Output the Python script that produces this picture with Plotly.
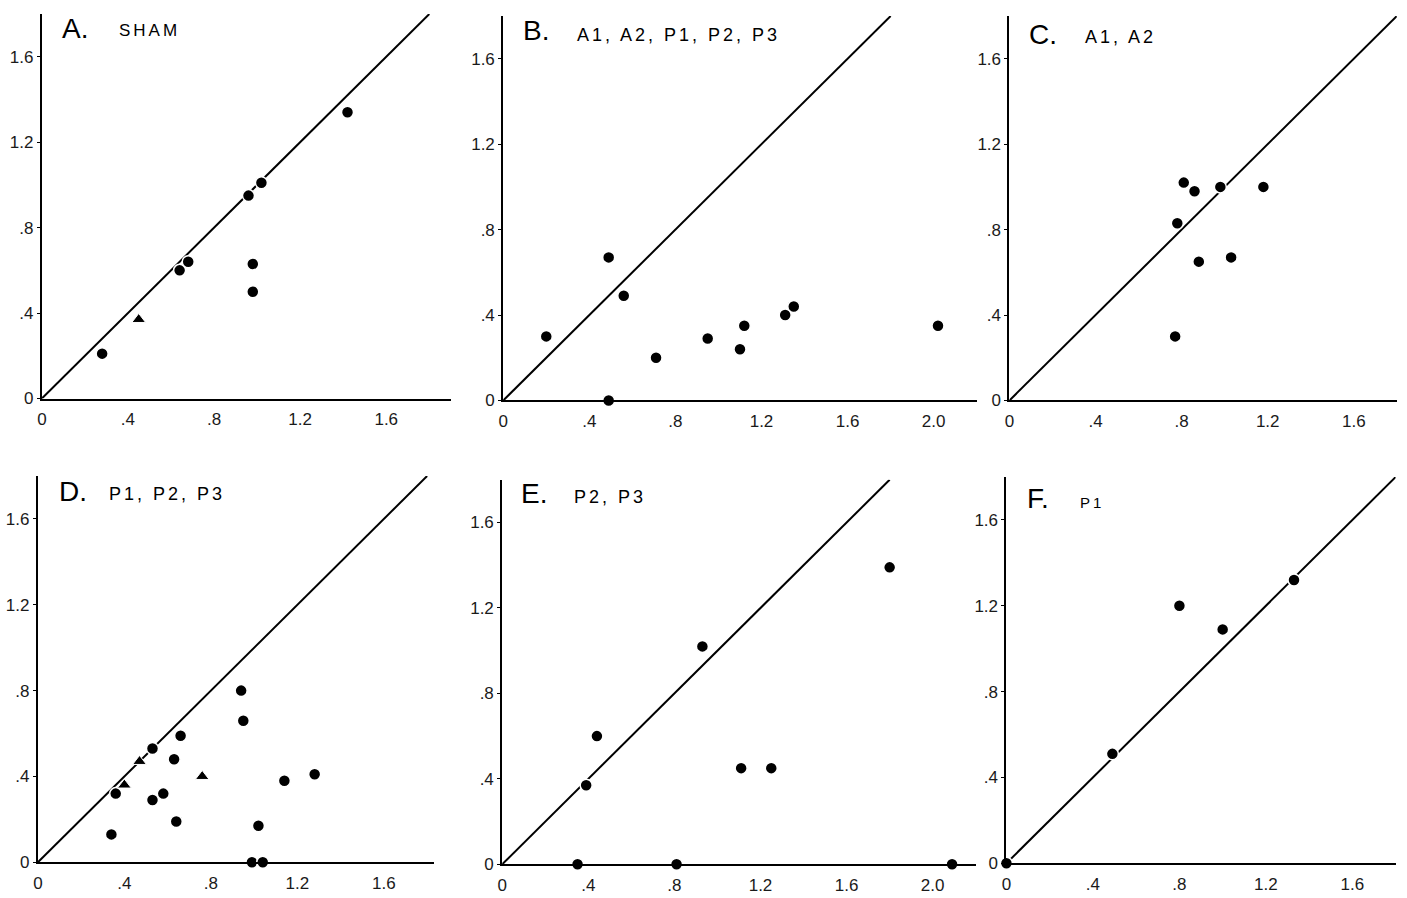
import plotly.graph_objects as go

# ---------------- data ----------------
panel_letters = ["A.", "B.", "C.", "D.", "E.", "F."]
panel_labels = ["SHAM", "A1, A2, P1, P2, P3", "A1, A2", "P1, P2, P3", "P2, P3", "P1"]

A_circle_x = [0.28, 0.64, 0.68, 0.96, 1.02, 0.98, 0.98, 1.42]
A_circle_y = [0.21, 0.60, 0.64, 0.95, 1.01, 0.63, 0.50, 1.34]
A_tri_x = [0.45]
A_tri_y = [0.37]

B_circle_x = [0.20, 0.49, 0.56, 0.49, 0.71, 0.95, 1.10, 1.12, 1.31, 1.35, 2.02]
B_circle_y = [0.30, 0.67, 0.49, 0.00, 0.20, 0.29, 0.24, 0.35, 0.40, 0.44, 0.35]
B_tri_x = []
B_tri_y = []

C_circle_x = [0.81, 0.86, 0.98, 1.18, 0.78, 0.88, 1.03, 0.77]
C_circle_y = [1.02, 0.98, 1.00, 1.00, 0.83, 0.65, 0.67, 0.30]
C_tri_x = []
C_tri_y = []

D_circle_x = [0.34, 0.36, 0.53, 0.53, 0.58, 0.63, 0.66, 0.64, 0.94, 0.95, 1.02, 0.99, 1.04, 1.14, 1.28]
D_circle_y = [0.13, 0.32, 0.53, 0.29, 0.32, 0.48, 0.59, 0.19, 0.80, 0.66, 0.17, 0.00, 0.00, 0.38, 0.41]
D_tri_x = [0.40, 0.47, 0.76]
D_tri_y = [0.36, 0.47, 0.40]

E_circle_x = [0.39, 0.44, 0.93, 1.11, 1.25, 1.80, 0.35, 0.81, 2.09]
E_circle_y = [0.37, 0.60, 1.02, 0.45, 0.45, 1.39, 0.00, 0.00, 0.00]
E_tri_x = []
E_tri_y = []

F_circle_x = [0.00, 0.49, 0.80, 1.00, 1.33]
F_circle_y = [0.00, 0.51, 1.20, 1.09, 1.32]
F_tri_x = []
F_tri_y = []

diag_x = [0, 1.8]
diag_y = [0, 1.8]

tick_vals_short = [0, 0.4, 0.8, 1.2, 1.6]
tick_text_short = ["0", ".4", ".8", "1.2", "1.6"]
tick_vals_long = [0, 0.4, 0.8, 1.2, 1.6, 2.0]
tick_text_long = ["0", ".4", ".8", "1.2", "1.6", "2.0"]

circles_x = [A_circle_x, B_circle_x, C_circle_x, D_circle_x, E_circle_x, F_circle_x]
circles_y = [A_circle_y, B_circle_y, C_circle_y, D_circle_y, E_circle_y, F_circle_y]
tris_x = [A_tri_x, B_tri_x, C_tri_x, D_tri_x, E_tri_x, F_tri_x]
tris_y = [A_tri_y, B_tri_y, C_tri_y, D_tri_y, E_tri_y, F_tri_y]

# ---------------- layout geometry (pixels) ----------------
W, H = 1407, 898
# origin x, origin y, px per unit, x max, y max
geo = [
    (37, 403, 216, 1.90, 1.80),
    (500, 405, 216, 2.20, 1.80),
    (1008, 405, 216, 1.80, 1.80),
    (33, 872, 217, 1.83, 1.80),
    (499, 874, 216, 2.20, 1.80),
    (1005, 873, 217, 1.80, 1.80),
]
long_ticks = [False, True, False, False, True, False]
# title positions: letter (x, ycenter), label (x, ycenter, size)
title_pos = [
    ((55, 29), (112, 31, 17)),
    ((518, 31), (572, 35, 18)),
    ((1026, 35), (1082, 37, 18)),
    ((52, 497), (102, 500, 18)),
    ((516, 499), (569, 503, 18)),
    ((1024, 504), (1077, 508, 15)),
]

fig = go.Figure()
annotations = []
layout_axes = {}
tick_font = dict(family="Liberation Sans, Arial, sans-serif", size=17, color="#1a1a1a")

for i in range(6):
    n = "" if i == 0 else str(i + 1)
    xa, ya = "x" + n, "y" + n
    x0, y0, s, xm, ym = geo[i]
    xdom = [x0 / W, (x0 + xm * s) / W]
    ydom = [1 - y0 / H, 1 - (y0 - ym * s) / H]
    tv = tick_vals_long if long_ticks[i] else tick_vals_short
    tt = tick_text_long if long_ticks[i] else tick_text_short
    layout_axes["xaxis" + n] = dict(
        domain=xdom, range=[0, xm], anchor=ya, showgrid=False, zeroline=False,
        showline=True, linecolor="black", linewidth=2, tickvals=tv, ticktext=tt,
        ticks="", tickfont=tick_font, ticklabelstandoff=4, fixedrange=True,
    )
    layout_axes["yaxis" + n] = dict(
        domain=ydom, range=[0, ym], anchor=xa, showgrid=False, zeroline=False,
        showline=True, linecolor="black", linewidth=2,
        tickvals=tick_vals_short, ticktext=tick_text_short,
        ticks="outside", ticklen=3, tickwidth=1, tickcolor="black",
        tickfont=tick_font, fixedrange=True,
    )
    fig.add_trace(go.Scatter(
        x=diag_x, y=diag_y, mode="lines", xaxis=xa, yaxis=ya,
        line=dict(color="black", width=2), showlegend=False, hoverinfo="skip",
    ))
    fig.add_trace(go.Scatter(
        x=circles_x[i], y=circles_y[i], mode="markers", xaxis=xa, yaxis=ya,
        marker=dict(symbol="circle", size=12, color="black",
                    line=dict(color="white", width=1.5)),
        cliponaxis=False, showlegend=False,
    ))
    if tris_x[i]:
        fig.add_trace(go.Scatter(
            x=tris_x[i], y=tris_y[i], mode="markers", xaxis=xa, yaxis=ya,
            marker=dict(symbol="triangle-up", size=12, color="black",
                        line=dict(color="white", width=1)),
            cliponaxis=False, showlegend=False,
        ))
    (lx, ly), (sx, sy, ss) = title_pos[i]
    annotations.append(dict(
        text=panel_letters[i], xref="paper", yref="paper",
        x=lx / W, y=1 - ly / H, xanchor="left", yanchor="middle", showarrow=False,
        font=dict(family="Liberation Sans, Arial, sans-serif", size=28, color="black"),
    ))
    annotations.append(dict(
        text='<span style="letter-spacing:3px">' + panel_labels[i] + "</span>",
        xref="paper", yref="paper",
        x=sx / W, y=1 - sy / H, xanchor="left", yanchor="middle", showarrow=False,
        font=dict(family="Liberation Sans, Arial, sans-serif", size=ss, color="black"),
    ))

fig.update_layout(
    width=W, height=H, margin=dict(l=0, r=0, t=0, b=0),
    paper_bgcolor="white", plot_bgcolor="white",
    annotations=annotations, showlegend=False, **layout_axes,
)

fig.write_html("out.html", config={"displayModeBar": False},
               post_script="document.body.style.margin='0px';")
